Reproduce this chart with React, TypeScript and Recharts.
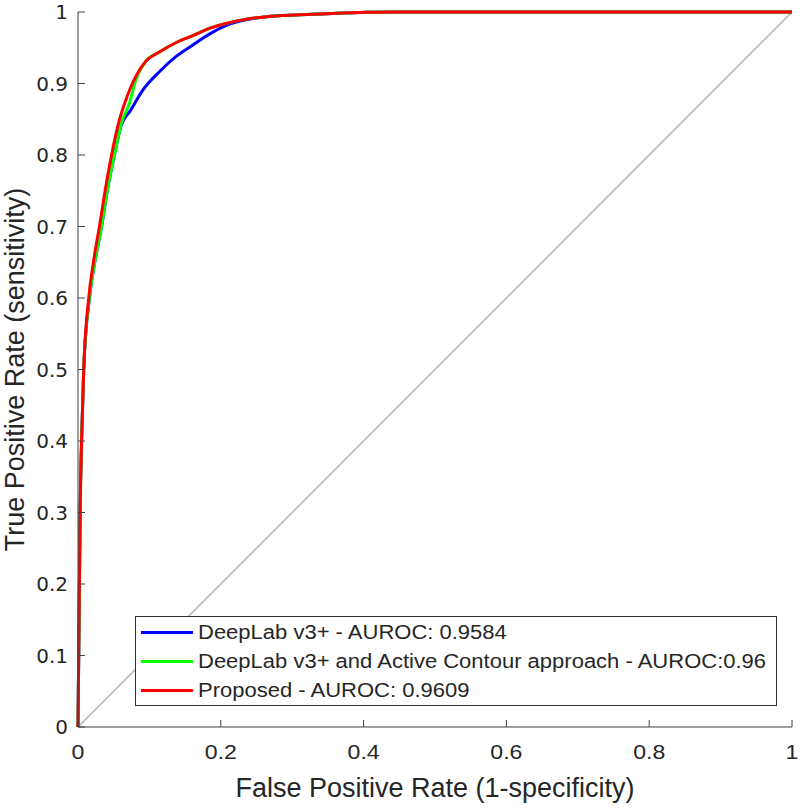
import { LineChart, Line, XAxis, YAxis, Legend, Label } from 'recharts'

// ROC points (false positive rate, true positive rate)
const blueFpr = [0, 0.001, 0.002, 0.003, 0.005, 0.008, 0.016, 0.024, 0.033, 0.042, 0.051, 0.06, 0.074, 0.091, 0.114, 0.137, 0.161, 0.184, 0.207, 0.23, 0.264, 0.311, 0.357, 0.404, 0.451, 1]
const blueTpr = [0, 0.1, 0.2, 0.3, 0.4, 0.5, 0.6, 0.653, 0.7, 0.756, 0.8, 0.84, 0.863, 0.891, 0.9165, 0.9375, 0.954, 0.969, 0.981, 0.988, 0.9935, 0.996, 0.998, 0.9995, 1, 1]

const greenFpr = [0, 0.001, 0.002, 0.003, 0.005, 0.008, 0.016, 0.024, 0.033, 0.042, 0.051, 0.061, 0.072, 0.081, 0.095, 0.114, 0.137, 0.161, 0.184, 0.207, 0.23, 0.264, 0.311, 0.357, 0.404, 0.451, 1]
const greenTpr = [0, 0.1, 0.2, 0.3, 0.4, 0.5, 0.6, 0.653, 0.7, 0.756, 0.8, 0.845, 0.872, 0.905, 0.931, 0.944, 0.957, 0.967, 0.977, 0.984, 0.989, 0.9935, 0.996, 0.998, 0.9995, 1, 1]

const redFpr = [0, 0.001, 0.002, 0.003, 0.005, 0.008, 0.015, 0.022, 0.03, 0.039, 0.047, 0.058, 0.067, 0.081, 0.095, 0.114, 0.137, 0.161, 0.184, 0.207, 0.23, 0.264, 0.311, 0.357, 0.404, 0.451, 1]
const redTpr = [0, 0.1, 0.2, 0.3, 0.4, 0.5, 0.6, 0.653, 0.7, 0.756, 0.8, 0.849, 0.877, 0.91, 0.931, 0.944, 0.957, 0.967, 0.977, 0.984, 0.989, 0.9935, 0.996, 0.998, 0.9995, 1, 1]

const chanceFpr = [0, 1]
const chanceTpr = [0, 1]

const legendLabels = [
    'DeepLab v3+ - AUROC: 0.9584',
    'DeepLab v3+ and Active Contour approach - AUROC:0.96',
    'Proposed - AUROC: 0.9609',
]
const seriesColors = ['#0000ff', '#00ff00', '#ff0000']

const xTicks = [0, 0.2, 0.4, 0.6, 0.8, 1]
const yTicks = [0, 0.1, 0.2, 0.3, 0.4, 0.5, 0.6, 0.7, 0.8, 0.9, 1]

const toRows = (fpr: number[], tpr: number[]) => fpr.map((f, i) => ({ fpr: f, tpr: tpr[i] }))

const blueData = toRows(blueFpr, blueTpr)
const greenData = toRows(greenFpr, greenTpr)
const redData = toRows(redFpr, redTpr)
const chanceData = toRows(chanceFpr, chanceTpr)

const AXIS = '#404040'
const TEXT = '#262626'
const SANS = '"Liberation Sans", Arial, sans-serif'

// MATLAB-style ticks: short marks pointing into the plot, label outside
function XTick({ x, y, payload }: any) {
    return (
        <g>
            <line x1={x} y1={y} x2={x} y2={y - 7} stroke={AXIS} strokeWidth={1} />
            <text
                transform={`translate(${x},${y + 32}) scale(1.1,1)`}
                textAnchor="middle"
                fontFamily={SANS}
                fontSize={21}
                fill={TEXT}
            >
                {String(payload.value)}
            </text>
        </g>
    )
}

function YTick({ x, y, payload }: any) {
    return (
        <g>
            <line x1={x} y1={y} x2={x + 7} y2={y} stroke={AXIS} strokeWidth={1} />
            <text
                x={x - 10}
                y={y + 7.3}
                textAnchor="end"
                fontFamily='"DejaVu Sans", sans-serif'
                fontSize={20}
                fill={TEXT}
            >
                {String(payload.value)}
            </text>
        </g>
    )
}

function RocLegend() {
    return (
        <div
            style={{
                boxSizing: 'border-box',
                width: 642,
                height: 90,
                border: '1px solid #303030',
                background: '#fff',
                paddingTop: 1,
                fontFamily: SANS,
                fontSize: 20,
                color: TEXT,
            }}
        >
            {legendLabels.map((label, i) => (
                <div key={label} style={{ height: 29, display: 'flex', alignItems: 'center' }}>
                    <div style={{ marginLeft: 5, width: 52, height: 3, background: seriesColors[i] }} />
                    <span
                        style={{
                            marginLeft: 5,
                            display: 'inline-block',
                            whiteSpace: 'nowrap',
                            transform: 'scaleX(1.1)',
                            transformOrigin: 'left center',
                        }}
                    >
                        {label}
                    </span>
                </div>
            ))}
        </div>
    )
}

export default function App() {
    return (
        <div style={{ position: 'absolute', left: 0, top: 0, background: '#fff' }}>
            <LineChart width={800} height={808} margin={{ top: 12, right: 8, bottom: 0, left: 0 }}>
                <XAxis
                    dataKey="fpr"
                    type="number"
                    domain={[0, 1]}
                    ticks={xTicks}
                    interval={0}
                    height={81}
                    tickSize={0}
                    tickMargin={0}
                    tickLine={false}
                    axisLine={{ stroke: AXIS, strokeWidth: 1 }}
                    tick={<XTick />}
                >
                    <Label
                        content={() => (
                            <text x={435} y={797} textAnchor="middle" fontFamily={SANS} fontSize={27} fill={TEXT}>
                                False Positive Rate (1-specificity)
                            </text>
                        )}
                    />
                </XAxis>
                <YAxis
                    dataKey="tpr"
                    type="number"
                    domain={[0, 1]}
                    ticks={yTicks}
                    interval={0}
                    width={78}
                    tickSize={0}
                    tickMargin={0}
                    tickLine={false}
                    axisLine={{ stroke: AXIS, strokeWidth: 1 }}
                    tick={<YTick />}
                >
                    <Label
                        content={() => (
                            <text
                                x={24}
                                y={369.5}
                                transform="rotate(-90, 24, 369.5)"
                                textAnchor="middle"
                                fontFamily={SANS}
                                fontSize={27}
                                fill={TEXT}
                            >
                                True Positive Rate (sensitivity)
                            </text>
                        )}
                    />
                </YAxis>
                <Line data={chanceData} dataKey="tpr" stroke="#c4c4c4" strokeWidth={2} dot={false} activeDot={false} isAnimationActive={false} legendType="none" />
                <Line type="monotone" data={blueData} dataKey="tpr" stroke={seriesColors[0]} strokeWidth={3} dot={false} activeDot={false} isAnimationActive={false} strokeLinejoin="round" />
                <Line type="monotone" data={greenData} dataKey="tpr" stroke={seriesColors[1]} strokeWidth={3} dot={false} activeDot={false} isAnimationActive={false} strokeLinejoin="round" />
                <Line type="monotone" data={redData} dataKey="tpr" stroke={seriesColors[2]} strokeWidth={3} dot={false} activeDot={false} isAnimationActive={false} strokeLinejoin="round" />
                <Legend
                    layout="vertical"
                    align="center"
                    verticalAlign="middle"
                    content={() => <RocLegend />}
                    wrapperStyle={{ left: 135, top: 616, width: 642, height: 90 }}
                />
            </LineChart>
        </div>
    )
}
